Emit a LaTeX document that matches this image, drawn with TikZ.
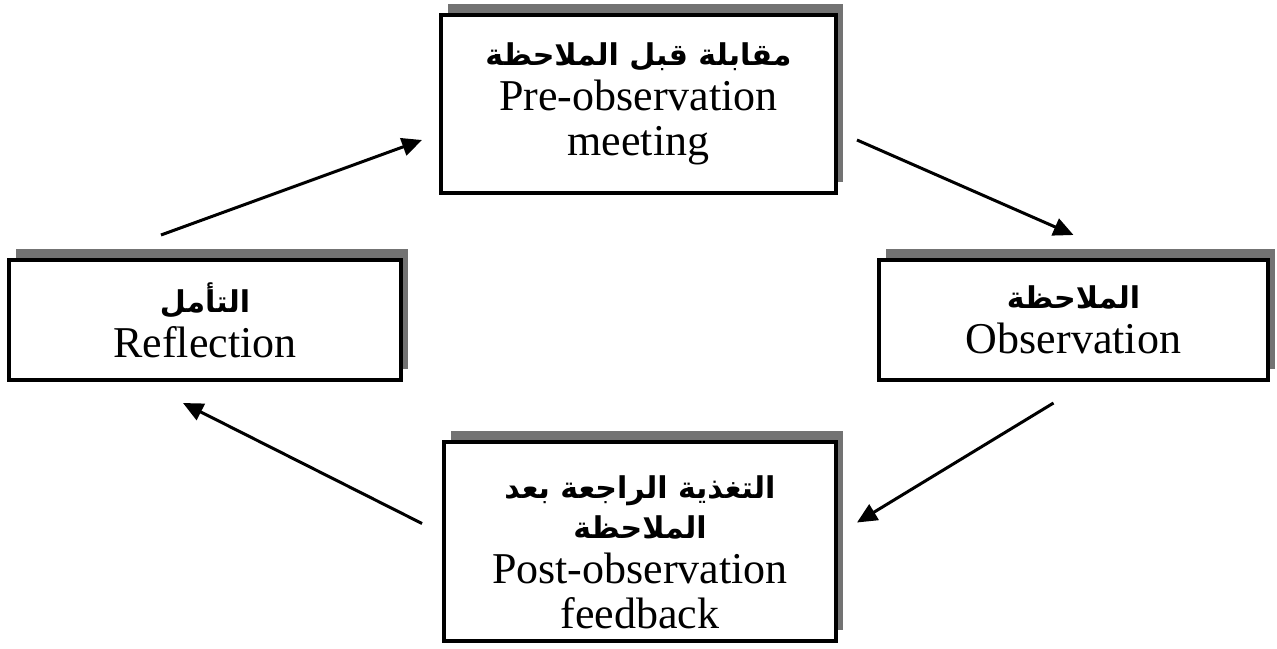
\documentclass[tikz,border=0pt]{standalone}
\usepackage{fontspec}
\setmainfont{Liberation Serif}
\newfontfamily\arabicfont[Script=Arabic]{DejaVu Sans}
\TeXXeTstate=1
\usetikzlibrary{arrows.meta,shadows}
\newcommand{\artxt}[1]{{\arabicfont\bfseries\fontsize{30}{45}\selectfont\beginR #1\endR}}

\begin{document}
\begin{tikzpicture}[x=1pt,y=-1pt,
    stagebox/.style={draw,line width=4pt,fill=white,align=center,
        font=\fontsize{44}{45}\selectfont,
        drop shadow={shadow xshift=7pt,shadow yshift=11pt,fill=black!55,opacity=1}},
    cyclearrow/.style={line width=3pt,-{Triangle[length=20pt,width=18pt]}}
]
    \useasboundingbox (0,0) rectangle (1277,648);

    \node[stagebox,minimum width=395pt,minimum height=178pt] (pre) at (638.5,104)
        {\artxt{مقابلة قبل الملاحظة}\\Pre-observation\\meeting};
    \node[stagebox,minimum width=389pt,minimum height=120pt] (obs) at (1073.5,320)
        {\artxt{الملاحظة}\\Observation};
    \node[stagebox,minimum width=392pt,minimum height=199pt] (post) at (640,541.5)
        {\rule{0pt}{44pt}\artxt{التغذية الراجعة بعد}\\[-5pt]\artxt{الملاحظة}\\Post-observation\\feedback};
    \node[stagebox,minimum width=392pt,minimum height=120pt] (refl) at (205,320)
        {\artxt{التأمل}\\Reflection};

    \draw[cyclearrow] ([xshift=-44pt,yshift=23pt]refl.north) -- ([xshift=-17pt,yshift=-36pt]pre.west);
    \draw[cyclearrow] ([xshift=19pt,yshift=-36pt]pre.east) -- ([yshift=23pt]obs.north);
    \draw[cyclearrow] ([xshift=-20pt,yshift=-21pt]obs.south) -- ([xshift=19pt,yshift=19pt]post.east);
    \draw[cyclearrow] ([xshift=-20pt,yshift=18pt]post.west) -- ([xshift=-22pt,yshift=-21pt]refl.south);

\end{tikzpicture}
\end{document}
